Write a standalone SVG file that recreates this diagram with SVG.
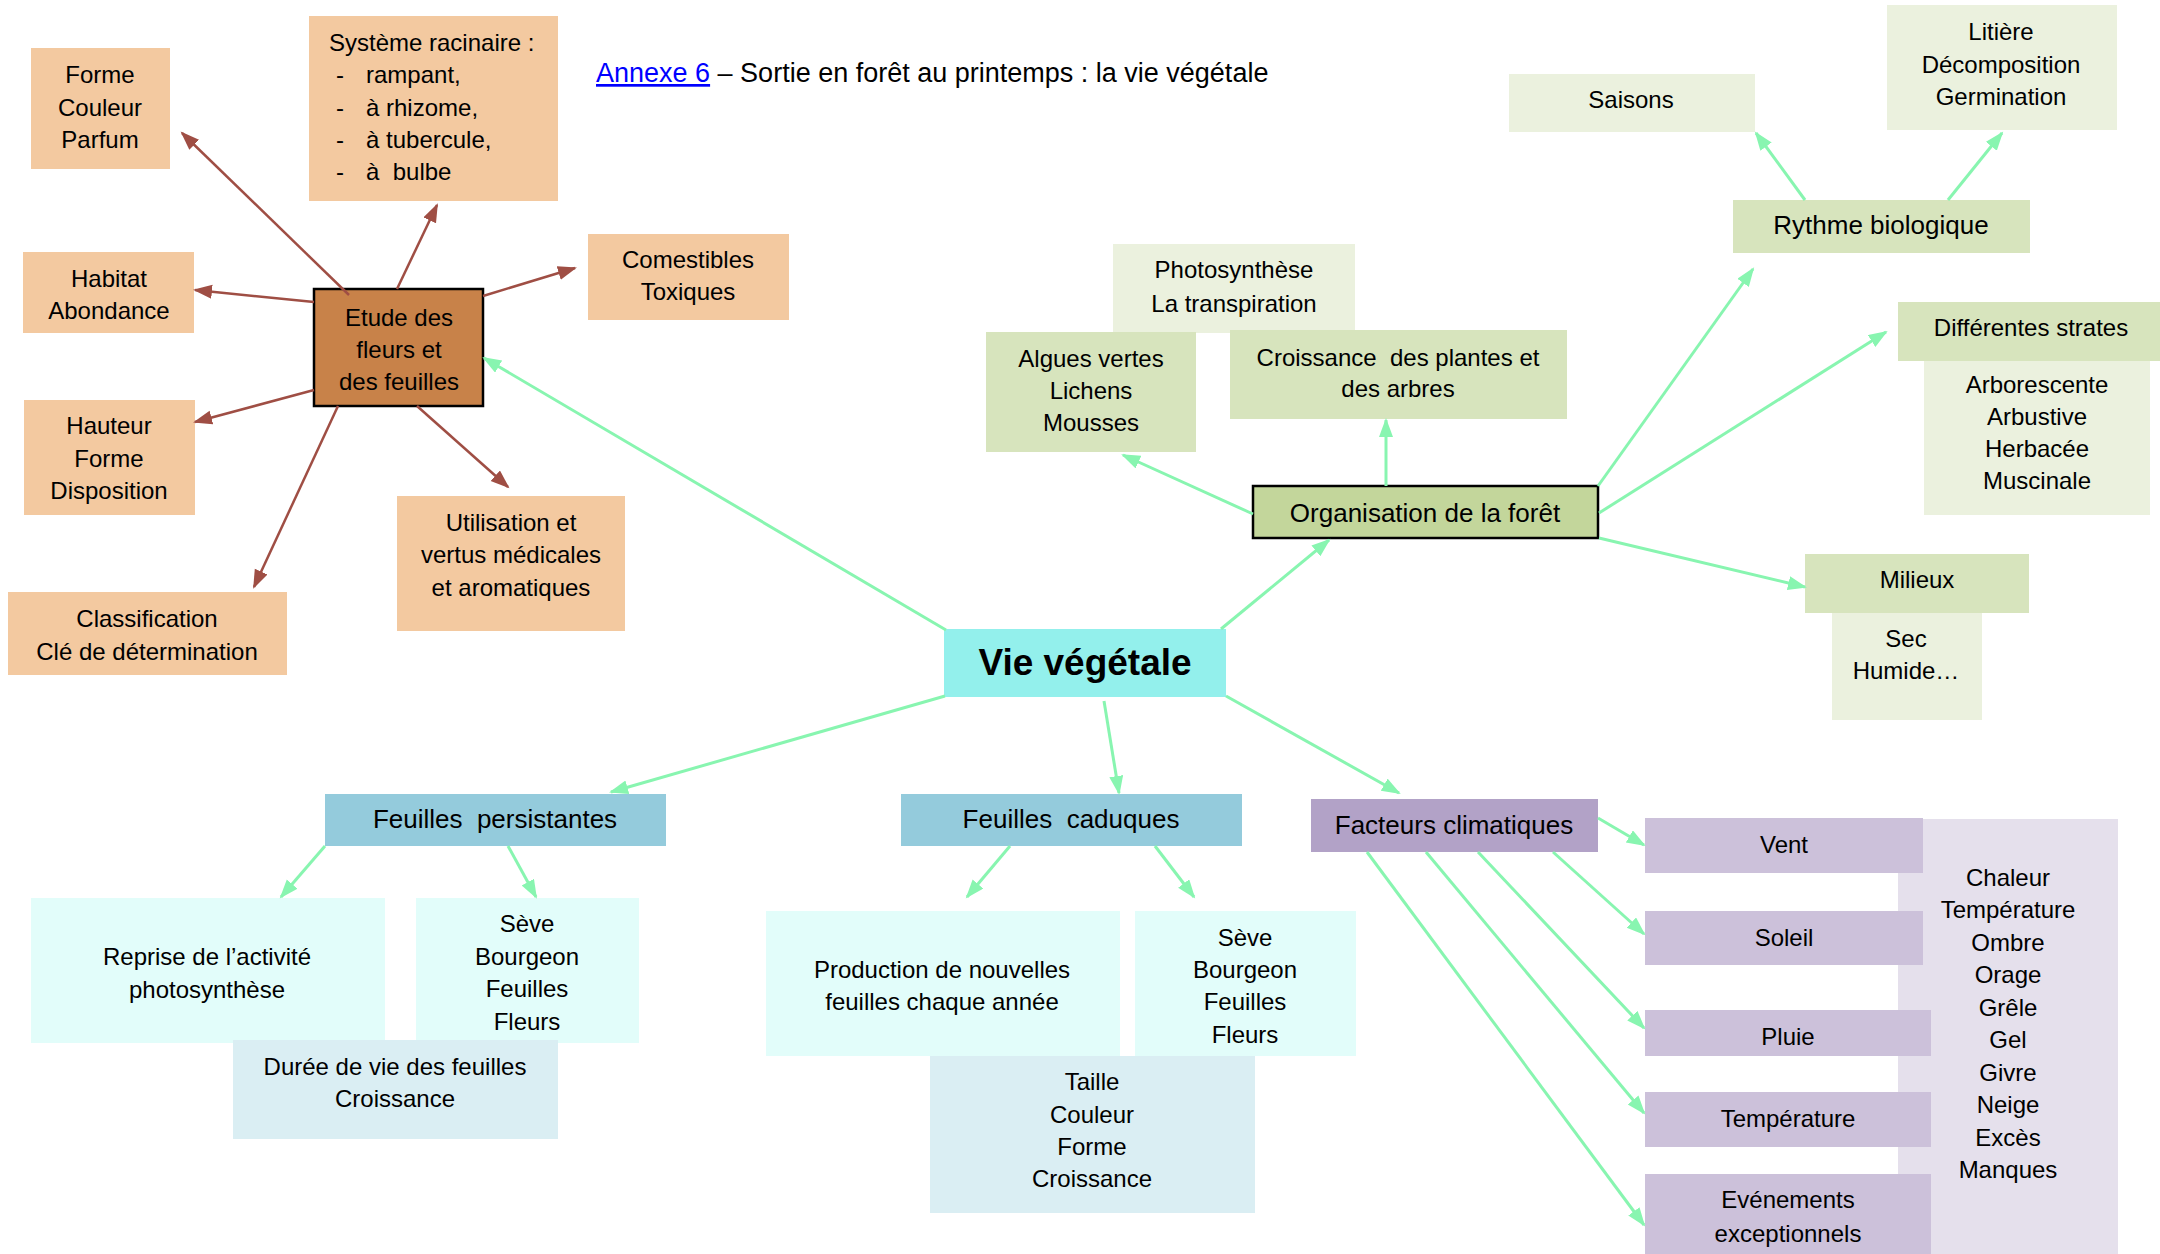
<svg xmlns="http://www.w3.org/2000/svg" width="2160" height="1254" viewBox="0 0 2160 1254">
<style>
text{font-family:"Liberation Sans",Arial,sans-serif;fill:#000;white-space:pre}
.c{font-size:24px;text-anchor:middle}
.l{font-size:24px}
.a{font-size:26px;text-anchor:middle}
.big{font-size:37px;font-weight:bold;text-anchor:middle}
.t{font-size:27px}
.or{fill:#F3C9A0}
.br{fill:#C88249;stroke:#000;stroke-width:2.5}
.g1{fill:#D7E4BD}
.g2{fill:#EBF1DE}
.go{fill:#C3D69B;stroke:#000;stroke-width:2.5}
.cy{fill:#E2FDFA}
.bl{fill:#DAEEF3}
.aq{fill:#94CBDC}
.pu{fill:#B2A2C7}
.pl{fill:#CCC1DA}
.pb{fill:#E5E0EC}
.gl{stroke:#88F5B0;stroke-width:3;fill:none;marker-end:url(#ag)}
.bw{stroke:#9F4E44;stroke-width:2.5;fill:none;marker-end:url(#ab)}
</style>
<defs>
<marker id="ag" markerUnits="userSpaceOnUse" markerWidth="20" markerHeight="16" refX="17" refY="7" orient="auto"><path d="M0,0 L19,7 L0,14 z" fill="#88F5B0"/></marker>
<marker id="ab" markerUnits="userSpaceOnUse" markerWidth="20" markerHeight="16" refX="17" refY="7" orient="auto"><path d="M0,0 L19,7 L0,14 z" fill="#9F4E44"/></marker>
</defs>
<rect width="2160" height="1254" fill="#fff"/>

<g id="title">
<text class="t" x="596" y="82"><tspan fill="#0000FF" text-decoration="underline" style="fill:#0000FF">Annexe 6</tspan><tspan> – Sortie en forêt au printemps : la vie végétale</tspan></text>
</g>

<!-- left orange cluster -->
<g id="n-forme"><rect class="or" x="31" y="48" width="139" height="121"/>
<text class="c" x="100" y="83">Forme</text><text class="c" x="100" y="116">Couleur</text><text class="c" x="100" y="148">Parfum</text></g>
<g id="n-systeme"><rect class="or" x="309" y="16" width="249" height="185"/>
<text class="l" x="329" y="51">Système racinaire :</text>
<text class="l" x="336" y="83">-</text><text class="l" x="366" y="83">rampant,</text>
<text class="l" x="336" y="116">-</text><text class="l" x="366" y="116">à rhizome,</text>
<text class="l" x="336" y="148">-</text><text class="l" x="366" y="148">à tubercule,</text>
<text class="l" x="336" y="180">-</text><text class="l" x="366" y="180">à  bulbe</text></g>
<g id="n-comestibles"><rect class="or" x="588" y="234" width="201" height="86"/>
<text class="c" x="688" y="268">Comestibles</text><text class="c" x="688" y="300">Toxiques</text></g>
<g id="n-habitat"><rect class="or" x="23" y="252" width="171" height="81"/>
<text class="c" x="109" y="287">Habitat</text><text class="c" x="109" y="319">Abondance</text></g>
<g id="n-etude"><rect class="br" x="314" y="289" width="169" height="117"/>
<text class="c" x="399" y="326">Etude des</text><text class="c" x="399" y="358">fleurs et</text><text class="c" x="399" y="390">des feuilles</text></g>
<g id="n-hauteur"><rect class="or" x="24" y="400" width="171" height="115"/>
<text class="c" x="109" y="434">Hauteur</text><text class="c" x="109" y="467">Forme</text><text class="c" x="109" y="499">Disposition</text></g>
<g id="n-utilisation"><rect class="or" x="397" y="496" width="228" height="135"/>
<text class="c" x="511" y="531">Utilisation et</text><text class="c" x="511" y="563">vertus médicales</text><text class="c" x="511" y="596">et aromatiques</text></g>
<g id="n-classification"><rect class="or" x="8" y="592" width="279" height="83"/>
<text class="c" x="147" y="627">Classification</text><text class="c" x="147" y="660">Clé de détermination</text></g>

<!-- center -->
<g id="n-vie"><rect x="944" y="629" width="282" height="68" fill="#93F0EC"/>
<text class="big" x="1085" y="675">Vie végétale</text></g>

<!-- top green -->
<g id="n-photo"><rect class="g2" x="1113" y="244" width="242" height="89"/>
<text class="c" x="1234" y="278">Photosynthèse</text><text class="c" x="1234" y="312">La transpiration</text></g>
<g id="n-algues"><rect class="g1" x="986" y="332" width="210" height="120"/>
<text class="c" x="1091" y="367">Algues vertes</text><text class="c" x="1091" y="399">Lichens</text><text class="c" x="1091" y="431">Mousses</text></g>
<g id="n-croissance"><rect class="g1" x="1230" y="330" width="337" height="89"/>
<text class="c" x="1398" y="366">Croissance  des plantes et</text><text class="c" x="1398" y="397">des arbres</text></g>
<g id="n-organisation"><rect class="go" x="1253" y="486" width="345" height="52"/>
<text class="a" x="1425" y="522">Organisation de la forêt</text></g>
<g id="n-saisons"><rect class="g2" x="1509" y="74" width="246" height="58"/>
<text class="c" x="1631" y="108">Saisons</text></g>
<g id="n-litiere"><rect class="g2" x="1887" y="5" width="230" height="125"/>
<text class="c" x="2001" y="40">Litière</text><text class="c" x="2001" y="73">Décomposition</text><text class="c" x="2001" y="105">Germination</text></g>
<g id="n-rythme"><rect class="g1" x="1733" y="200" width="297" height="53"/>
<text class="a" x="1881" y="234">Rythme biologique</text></g>
<g id="n-strates-list"><rect class="g2" x="1924" y="358" width="226" height="157"/>
<text class="c" x="2037" y="393">Arborescente</text><text class="c" x="2037" y="425">Arbustive</text><text class="c" x="2037" y="457">Herbacée</text><text class="c" x="2037" y="489">Muscinale</text></g>
<g id="n-strates"><rect class="g1" x="1898" y="302" width="262" height="59"/>
<text class="c" x="2031" y="336">Différentes strates</text></g>
<g id="n-sec"><rect class="g2" x="1832" y="612" width="150" height="108"/>
<text class="c" x="1906" y="647">Sec</text><text class="c" x="1906" y="679">Humide…</text></g>
<g id="n-milieux"><rect class="g1" x="1805" y="554" width="224" height="59"/>
<text class="c" x="1917" y="588">Milieux</text></g>

<!-- feuilles persistantes -->
<g id="n-fp"><rect class="aq" x="325" y="794" width="341" height="52"/>
<text class="a" x="495" y="828">Feuilles  persistantes</text></g>
<g id="n-reprise"><rect class="cy" x="31" y="898" width="354" height="145"/>
<text class="c" x="207" y="965">Reprise de l’activité</text><text class="c" x="207" y="998">photosynthèse</text></g>
<g id="n-seve1"><rect class="cy" x="416" y="898" width="223" height="145"/>
<text class="c" x="527" y="932">Sève</text><text class="c" x="527" y="965">Bourgeon</text><text class="c" x="527" y="997">Feuilles</text><text class="c" x="527" y="1030">Fleurs</text></g>
<g id="n-duree"><rect class="bl" x="233" y="1040" width="325" height="99"/>
<text class="c" x="395" y="1075">Durée de vie des feuilles</text><text class="c" x="395" y="1107">Croissance</text></g>

<!-- feuilles caduques -->
<g id="n-fc"><rect class="aq" x="901" y="794" width="341" height="52"/>
<text class="a" x="1071" y="828">Feuilles  caduques</text></g>
<g id="n-production"><rect class="cy" x="766" y="911" width="354" height="145"/>
<text class="c" x="942" y="978">Production de nouvelles</text><text class="c" x="942" y="1010">feuilles chaque année</text></g>
<g id="n-seve2"><rect class="cy" x="1135" y="911" width="221" height="145"/>
<text class="c" x="1245" y="946">Sève</text><text class="c" x="1245" y="978">Bourgeon</text><text class="c" x="1245" y="1010">Feuilles</text><text class="c" x="1245" y="1043">Fleurs</text></g>
<g id="n-taille"><rect class="bl" x="930" y="1056" width="325" height="157"/>
<text class="c" x="1092" y="1090">Taille</text><text class="c" x="1092" y="1123">Couleur</text><text class="c" x="1092" y="1155">Forme</text><text class="c" x="1092" y="1187">Croissance</text></g>

<!-- facteurs climatiques -->
<g id="n-climat-list"><rect class="pb" x="1898" y="819" width="220" height="435"/>
<text class="c" x="2008" y="886">Chaleur</text><text class="c" x="2008" y="918">Température</text><text class="c" x="2008" y="951">Ombre</text><text class="c" x="2008" y="983">Orage</text><text class="c" x="2008" y="1016">Grêle</text><text class="c" x="2008" y="1048">Gel</text><text class="c" x="2008" y="1081">Givre</text><text class="c" x="2008" y="1113">Neige</text><text class="c" x="2008" y="1146">Excès</text><text class="c" x="2008" y="1178">Manques</text></g>
<g id="n-facteurs"><rect class="pu" x="1311" y="799" width="287" height="53"/>
<text class="a" x="1454" y="834">Facteurs climatiques</text></g>
<g id="n-vent"><rect class="pl" x="1645" y="818" width="278" height="55"/>
<text class="c" x="1784" y="853">Vent</text></g>
<g id="n-soleil"><rect class="pl" x="1645" y="911" width="278" height="54"/>
<text class="c" x="1784" y="946">Soleil</text></g>
<g id="n-pluie"><rect class="pl" x="1645" y="1010" width="286" height="46"/>
<text class="c" x="1788" y="1045">Pluie</text></g>
<g id="n-temperature"><rect class="pl" x="1645" y="1092" width="286" height="55"/>
<text class="c" x="1788" y="1127">Température</text></g>
<g id="n-evenements"><rect class="pl" x="1645" y="1174" width="286" height="80"/>
<text class="c" x="1788" y="1208">Evénements</text><text class="c" x="1788" y="1242">exceptionnels</text></g>

<g id="connectors">
<line class="bw" x1="349" y1="295" x2="182" y2="133"/>
<line class="bw" x1="397" y1="289" x2="437" y2="205"/>
<line class="bw" x1="483" y1="296" x2="575" y2="268"/>
<line class="bw" x1="314" y1="302" x2="195" y2="290"/>
<line class="bw" x1="314" y1="390" x2="195" y2="422"/>
<line class="bw" x1="338" y1="406" x2="254" y2="587"/>
<line class="bw" x1="417" y1="406" x2="508" y2="487"/>

<line class="gl" x1="946" y1="630" x2="484" y2="358"/>
<line class="gl" x1="1221" y1="629" x2="1329" y2="540"/>
<line class="gl" x1="945" y1="696" x2="611" y2="792"/>
<line class="gl" x1="1104" y1="701" x2="1119" y2="793"/>
<line class="gl" x1="1226" y1="696" x2="1399" y2="793"/>
<line class="gl" x1="1386" y1="486" x2="1386" y2="420"/>
<line class="gl" x1="1253" y1="514" x2="1123" y2="455"/>
<line class="gl" x1="1598" y1="486" x2="1753" y2="269"/>
<line class="gl" x1="1599" y1="513" x2="1886" y2="332"/>
<line class="gl" x1="1599" y1="538" x2="1805" y2="587"/>
<line class="gl" x1="1805" y1="200" x2="1756" y2="133"/>
<line class="gl" x1="1948" y1="200" x2="2002" y2="133"/>
<line class="gl" x1="325" y1="846" x2="281" y2="897"/>
<line class="gl" x1="508" y1="846" x2="536" y2="897"/>
<line class="gl" x1="1010" y1="846" x2="967" y2="897"/>
<line class="gl" x1="1155" y1="846" x2="1194" y2="897"/>
<line class="gl" x1="1598" y1="818" x2="1644" y2="845"/>
<line class="gl" x1="1553" y1="852" x2="1644" y2="934"/>
<line class="gl" x1="1478" y1="852" x2="1644" y2="1028"/>
<line class="gl" x1="1426" y1="852" x2="1644" y2="1113"/>
<line class="gl" x1="1367" y1="852" x2="1644" y2="1225"/>
</g>
</svg>
